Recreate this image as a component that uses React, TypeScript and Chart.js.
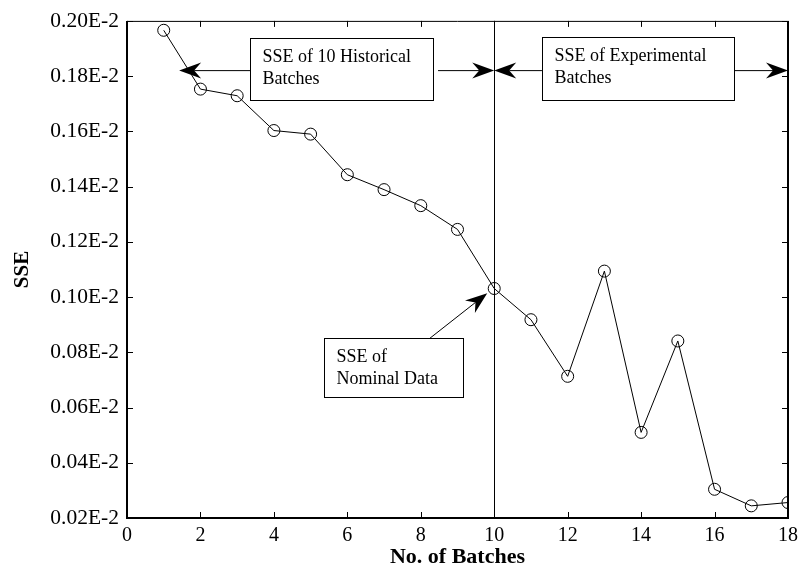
import React, { useEffect, useRef } from "react";
import { Chart, registerables } from "chart.js";

Chart.register(...registerables);

const batches = [1, 2, 3, 4, 5, 6, 7, 8, 9, 10, 11, 12, 13, 14, 15, 16, 17, 18];
const sse = [
  0.1966, 0.1753, 0.1729, 0.1603, 0.159, 0.1443, 0.1389, 0.1331, 0.1245,
  0.1031, 0.0918, 0.0713, 0.1094, 0.051, 0.0841, 0.0304, 0.0244, 0.0256,
];
const xTickValues = [0, 2, 4, 6, 8, 10, 12, 14, 16, 18];
const yTickValues = [0.02, 0.04, 0.06, 0.08, 0.1, 0.12, 0.14, 0.16, 0.18, 0.2];

const boxes = [
  { x1: 3.35, x2: 8.33, y1: 0.1939, y2: 0.1714, lines: ["SSE of 10 Historical", "Batches"] },
  { x1: 11.3, x2: 16.53, y1: 0.1942, y2: 0.1714, lines: ["SSE of Experimental", "Batches"] },
  { x1: 5.36, x2: 9.15, y1: 0.0851, y2: 0.0638, lines: ["SSE of", "Nominal Data"] },
];
const arrows = [
  { fx: 3.35, fy: 0.182, tx: 1.42, ty: 0.182 },
  { fx: 8.47, fy: 0.182, tx: 10, ty: 0.182 },
  { fx: 11.3, fy: 0.182, tx: 10, ty: 0.182 },
  { fx: 16.53, fy: 0.182, tx: 18, ty: 0.182 },
  { fx: 8.25, fy: 0.0851, tx: 9.81, ty: 0.1014 },
];
const dividerX = 10;

const FONT = '"Liberation Serif", "Times New Roman", serif';

function drawArrow(ctx: CanvasRenderingContext2D, x1: number, y1: number, x2: number, y2: number) {
  const ang = Math.atan2(y2 - y1, x2 - x1);
  const L = 22, W = 8, N = 15;
  const cos = Math.cos(ang), sin = Math.sin(ang);
  const pt = (a: number, b: number) => [x2 - a * cos - b * sin, y2 - a * sin + b * cos];
  ctx.beginPath();
  ctx.moveTo(x1, y1);
  const [nx, ny] = pt(N, 0);
  ctx.lineTo(nx, ny);
  ctx.stroke();
  const [ax, ay] = pt(L, W);
  const [bx, by] = pt(L, -W);
  ctx.beginPath();
  ctx.moveTo(x2, y2);
  ctx.lineTo(ax, ay);
  ctx.lineTo(nx, ny);
  ctx.lineTo(bx, by);
  ctx.closePath();
  ctx.fill();
}

const framePlugin = {
  id: "frame",
  afterDraw(chart: any) {
    const { ctx, chartArea, scales } = chart;
    const { left, right, top, bottom } = chartArea;
    const xs = scales.x, ys = scales.y;
    ctx.save();
    ctx.strokeStyle = "#000";
    ctx.fillStyle = "#000";
    // frame
    ctx.lineWidth = 1;
    ctx.beginPath();
    ctx.moveTo(left, top + 0.5);
    ctx.lineTo(right, top + 0.5);
    ctx.stroke();
    ctx.lineWidth = 2;
    ctx.beginPath();
    ctx.moveTo(left, top);
    ctx.lineTo(left, bottom);
    ctx.lineTo(right, bottom);
    ctx.lineTo(right, top);
    ctx.stroke();
    // inward ticks
    ctx.lineWidth = 1;
    const tl = 6;
    xTickValues.forEach((v) => {
      const px = Math.round(xs.getPixelForValue(v)) + 0.5;
      ctx.beginPath();
      ctx.moveTo(px, bottom);
      ctx.lineTo(px, bottom - tl);
      ctx.moveTo(px, top);
      ctx.lineTo(px, top + tl);
      ctx.stroke();
    });
    yTickValues.forEach((v) => {
      const py = Math.round(ys.getPixelForValue(v)) + 0.5;
      ctx.beginPath();
      ctx.moveTo(left, py);
      ctx.lineTo(left + tl, py);
      ctx.moveTo(right, py);
      ctx.lineTo(right - tl, py);
      ctx.stroke();
    });
    // divider
    const dx = Math.round(xs.getPixelForValue(dividerX)) + 0.5;
    ctx.beginPath();
    ctx.moveTo(dx, top);
    ctx.lineTo(dx, bottom);
    ctx.stroke();
    // boxes
    ctx.font = `18px ${FONT}`;
    ctx.textBaseline = "middle";
    ctx.textAlign = "left";
    boxes.forEach((b) => {
      const x1 = Math.round(xs.getPixelForValue(b.x1)) + 0.5;
      const x2 = Math.round(xs.getPixelForValue(b.x2)) + 0.5;
      const y1 = Math.round(ys.getPixelForValue(b.y1)) + 0.5;
      const y2 = Math.round(ys.getPixelForValue(b.y2)) + 0.5;
      ctx.fillStyle = "#fff";
      ctx.fillRect(x1, y1, x2 - x1, y2 - y1);
      ctx.fillStyle = "#000";
      ctx.strokeRect(x1, y1, x2 - x1, y2 - y1);
      b.lines.forEach((t, i) => {
        ctx.fillText(t, x1 + 12, y1 + 19 + i * 22);
      });
    });
    // arrows
    arrows.forEach((a) => {
      drawArrow(
        ctx,
        xs.getPixelForValue(a.fx),
        ys.getPixelForValue(a.fy),
        xs.getPixelForValue(a.tx),
        ys.getPixelForValue(a.ty)
      );
    });
    ctx.restore();
  },
};

export default function App() {
  const ref = useRef<HTMLCanvasElement>(null);
  useEffect(() => {
    if (!ref.current) return;
    const chart = new Chart(ref.current, {
      type: "line",
      data: {
        datasets: [
          {
            data: batches.map((b, i) => ({ x: b, y: sse[i] })),
            borderColor: "#000",
            borderWidth: 1,
            backgroundColor: "rgba(0,0,0,0)",
            pointRadius: 6,
            pointBorderWidth: 1,
            pointBorderColor: "#000",
            pointBackgroundColor: "rgba(0,0,0,0)",
            tension: 0,
            fill: false,
          },
        ],
      },
      options: {
        animation: false,
        responsive: false,
        devicePixelRatio: 1,
        layout: { padding: { top: 20, right: 20, left: 0, bottom: 0 } },
        plugins: { legend: { display: false }, tooltip: { enabled: false } },
        scales: {
          x: {
            type: "linear",
            min: 0,
            max: 18,
            afterBuildTicks: (s: any) => {
              s.ticks = xTickValues.map((v) => ({ value: v }));
            },
            afterFit: (s: any) => {
              s.height = 58;
            },
            grid: { display: false, drawTicks: false },
            border: { display: false },
            ticks: {
              color: "#000",
              font: { family: FONT, size: 20 },
              padding: 6,
              maxRotation: 0,
              autoSkip: false,
              callback: (v: any) => String(v),
            },
            title: {
              display: true,
              text: "No. of Batches",
              color: "#000",
              font: { family: FONT, size: 22, weight: "bold" },
              padding: { top: 0, bottom: 5 },
            },
          },
          y: {
            type: "linear",
            min: 0.02,
            max: 0.2,
            afterBuildTicks: (s: any) => {
              s.ticks = yTickValues.map((v) => ({ value: v }));
            },
            afterFit: (s: any) => {
              s.width = 127;
            },
            grid: { display: false, drawTicks: false },
            border: { display: false },
            ticks: {
              color: "#000",
              font: { family: FONT, size: 21.5 },
              padding: 8,
              autoSkip: false,
              callback: (v: any) => `${Number(v).toFixed(2)}E-2`,
            },
            title: {
              display: true,
              text: "SSE",
              color: "#000",
              font: { family: FONT, size: 21, weight: "bold" },
              padding: { top: 10, bottom: 0 },
            },
          },
        },
      },
      plugins: [framePlugin],
    });
    return () => chart.destroy();
  }, []);
  return (
    <div style={{ position: "absolute", left: 0, top: 0, width: 808, height: 576, background: "#fff" }}>
      <canvas ref={ref} width={808} height={576} />
    </div>
  );
}
